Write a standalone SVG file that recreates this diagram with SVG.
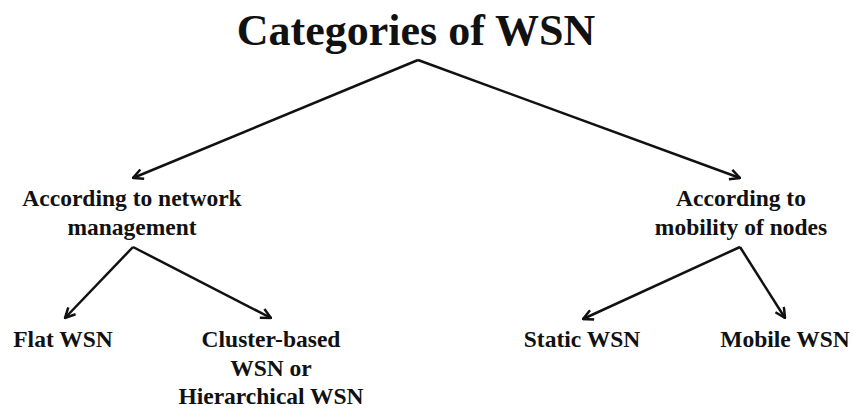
<svg xmlns="http://www.w3.org/2000/svg" width="854" height="410" viewBox="0 0 854 410">
<style>
text{font-family:"Liberation Serif","Times New Roman",serif;font-weight:bold;fill:#111;text-anchor:middle}
.t{font-size:44px}
.n{font-size:23.5px}
.c{fill:none;stroke:#111;stroke-width:2.5;stroke-linejoin:miter}
</style>
<defs>
<marker id="ah" viewBox="0 0 12 12" refX="11" refY="6" markerWidth="12" markerHeight="12" markerUnits="userSpaceOnUse" orient="auto">
<path d="M1,1 L11,6 L1,11" fill="none" stroke="#111" stroke-width="2.5"/>
</marker>
</defs>
<g id="connectors">
<path class="c" d="M418,60 L133,178" marker-end="url(#ah)"/>
<path class="c" d="M418,60 L740,178" marker-end="url(#ah)"/>
<path class="c" d="M133,247 L65,318" marker-end="url(#ah)"/>
<path class="c" d="M133,247 L271,318" marker-end="url(#ah)"/>
<path class="c" d="M740,247 L583,319" marker-end="url(#ah)"/>
<path class="c" d="M740,247 L785,318" marker-end="url(#ah)"/>
</g>
<g id="root"><text class="t" x="416" y="45">Categories of WSN</text></g>
<g id="network"><text class="n" x="132" y="206">According to network</text><text class="n" x="132" y="235">management</text></g>
<g id="mobility"><text class="n" x="741" y="206">According to</text><text class="n" x="741" y="235">mobility of nodes</text></g>
<g id="flat"><text class="n" x="63" y="347">Flat WSN</text></g>
<g id="cluster"><text class="n" x="271" y="347">Cluster-based</text><text class="n" x="271" y="376">WSN or</text><text class="n" x="271" y="404">Hierarchical WSN</text></g>
<g id="static"><text class="n" x="582" y="347">Static WSN</text></g>
<g id="mobile"><text class="n" x="785" y="347">Mobile WSN</text></g>
</svg>
